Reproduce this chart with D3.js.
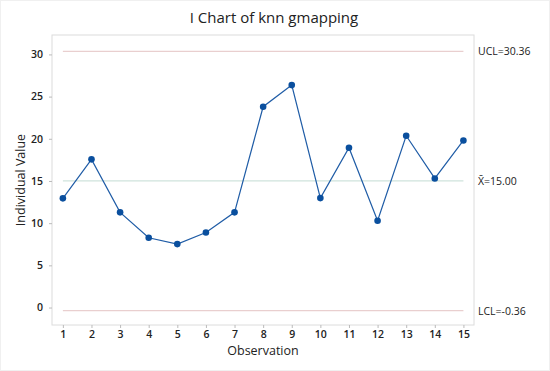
<!DOCTYPE html>
<html><head><meta charset="utf-8">
<script src="https://cdn.jsdelivr.net/npm/d3@7"></script>
<style>body{margin:0;background:#fff}svg{display:block}text{font-family:"Open Sans","Noto Sans",sans-serif}</style>
</head><body>
<script>
const observations = [1,2,3,4,5,6,7,8,9,10,11,12,13,14,15];
const values = [12.94,17.56,11.28,8.27,7.52,8.9,11.28,23.8,26.36,12.97,18.94,10.29,20.36,15.3,19.8];
const yTicks = [0,5,10,15,20,25,30];
const limitValues = [30.36, 15.00, -0.36];
const limitLabels = ["UCL=30.36", "X\u0304=15.00", "LCL=-0.36"];
const limitColors = ["#e9cfcf", "#cfe3dc", "#e9cfcf"];

const W = 550, H = 371;
const svg = d3.select("body").append("svg").attr("width", W).attr("height", H);
const L = 52, R = 474, T = 35, B = 325;
const x = d3.scaleLinear().domain([0.62, 15.37]).range([L, R]);
const y = d3.scaleLinear().domain([-2.07, 32.3]).range([B, T]);

svg.append("rect").attr("x",0.5).attr("y",0.5).attr("width",W-1).attr("height",H-1).attr("fill","none").attr("stroke","#f0f0f0");
svg.append("text").attr("x",274).attr("y",23).attr("text-anchor","middle").attr("font-size",15).attr("fill","#222").text("I Chart of knn gmapping");

svg.append("rect").attr("x",L).attr("y",T).attr("width",R-L).attr("height",B-T).attr("fill","none").attr("stroke","#dcdcdc");

limitValues.forEach((v,i)=>{
  svg.append("line").attr("x1",x(1)).attr("x2",x(15)).attr("y1",y(v)).attr("y2",y(v)).attr("stroke",limitColors[i]).attr("stroke-width",1.3);
  svg.append("text").attr("x",R+4).attr("y",y(v)+4).attr("font-size",10.5).attr("fill","#222").text(limitLabels[i]);
});

const yAxis = d3.axisLeft(y).tickValues(yTicks).tickSize(3).tickPadding(6);
const gy = svg.append("g").attr("transform",`translate(${L},0)`).call(yAxis);
gy.select(".domain").remove();
gy.selectAll("line").attr("stroke","#bbb");
gy.selectAll("text").attr("font-size",10.5).attr("font-weight",600).attr("fill","#222");

const xAxis = d3.axisBottom(x).tickValues(observations).tickSize(3).tickPadding(3).tickFormat(d3.format("d"));
const gx = svg.append("g").attr("transform",`translate(0,${B})`).call(xAxis);
gx.select(".domain").remove();
gx.selectAll("line").attr("stroke","#bbb");
gx.selectAll("text").attr("font-size",10.5).attr("font-weight",600).attr("fill","#222");

svg.append("text").attr("x",263).attr("y",355).attr("text-anchor","middle").attr("font-size",12.5).attr("fill","#222").text("Observation");
svg.append("text").attr("transform","translate(25,180) rotate(-90)").attr("text-anchor","middle").attr("font-size",12.5).attr("fill","#222").text("Individual Value");

const line = d3.line().x((d,i)=>x(observations[i])).y(d=>y(d));
svg.append("path").datum(values).attr("d",line).attr("fill","none").attr("stroke","#1f5ca6").attr("stroke-width",1.2);
svg.selectAll("circle.pt").data(values).enter().append("circle").attr("class","pt")
  .attr("cx",(d,i)=>x(observations[i])).attr("cy",d=>y(d)).attr("r",3.3).attr("fill","#0a4f9e");
</script>
</body></html>
